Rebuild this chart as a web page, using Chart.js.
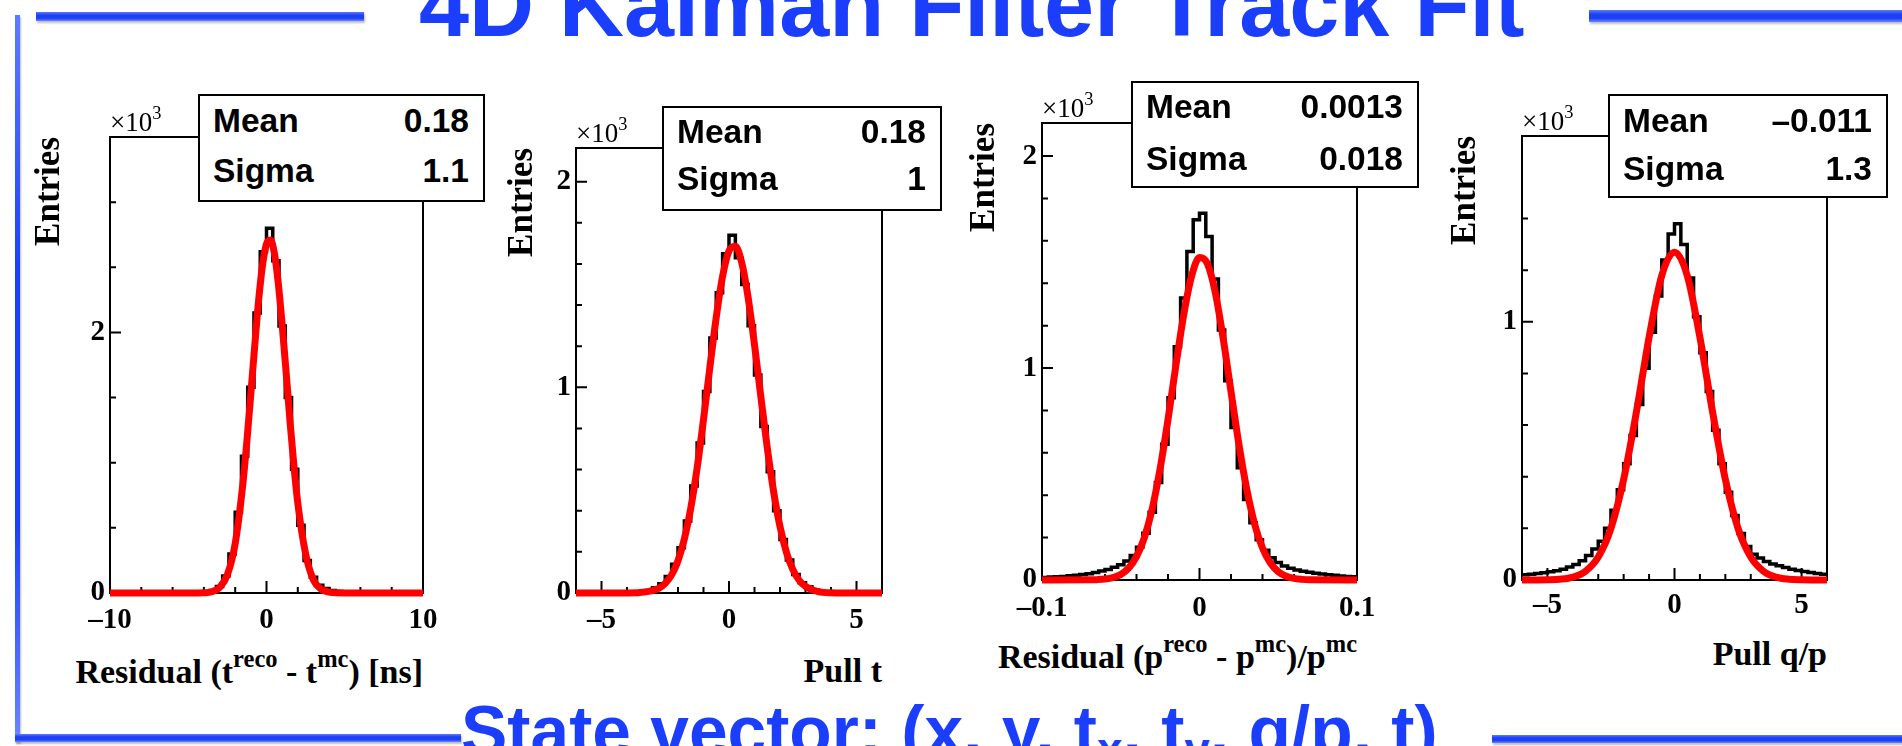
<!DOCTYPE html>
<html>
<head>
<meta charset="utf-8">
<script src="https://cdn.jsdelivr.net/npm/chart.js@4.4.0/dist/chart.umd.min.js"></script>
<style>
  html, body { margin: 0; padding: 0; background: #fff; }
  body { width: 1902px; height: 746px; position: relative; overflow: hidden; }
  canvas { position: absolute; }
  .txt { position: absolute; white-space: nowrap; line-height: 1; color: #000; }
  .serif { font-family: 'Liberation Serif', 'Times New Roman', serif; font-weight: bold; }
  .serifr { font-family: 'Liberation Serif', 'Times New Roman', serif; font-weight: normal; }
  .sans { font-family: 'Liberation Sans', Arial, sans-serif; font-weight: bold; }
  .blue { color: #1b3dfc; }
  .sup { font-size: 0.72em; position: relative; top: -0.62em; }
  .sup3 { font-size: 0.68em; position: relative; top: -0.7em; }
  .sub { font-size: 0.66em; position: relative; top: 0.22em; }
  .stat { position: absolute; border: 2px solid #000; background: #fff; box-sizing: border-box; z-index: 2; }
  .stat-txt { z-index: 3; }
  .brush { position: absolute; background: linear-gradient(#5d7cff, #1d40f5 35%, #1d40f5 70%, #6a86ff); box-shadow: 1px 2px 2px rgba(90,90,90,0.4); }
</style>
</head>
<body>
<div class="brush" style="left:36px;top:12px;width:328px;height:9px"></div>
<div class="brush" style="left:1589px;top:10px;width:313px;height:12px"></div>
<div class="brush" style="left:15px;top:15px;width:5px;height:727px"></div>
<div class="brush" style="left:15px;top:734px;width:446px;height:8px"></div>
<div class="brush" style="left:1492px;top:735px;width:410px;height:8px"></div>
<script>
'use strict'

// histogram binning: [low edge, bin width]
const p1Bins = [-10, 0.4];
const p2Bins = [-6, 0.25];
const p3Bins = [-0.1, 0.004];
const p4Bins = [-6, 0.25];

// bin contents (x10^3 entries)
const p1Counts = [0, 0, 0, 0, 0, 0, 0, 0, 0, 0,
  0, 0, 0, 0.002, 0.004, 0.01, 0.02, 0.05, 0.13, 0.30,
  0.62, 1.05, 1.58, 2.15, 2.62, 2.80, 2.55, 2.05, 1.50, 0.95,
  0.52, 0.25, 0.12, 0.06, 0.035, 0.02, 0.012, 0.007, 0.004, 0.002,
  0, 0, 0, 0, 0, 0, 0, 0, 0, 0];
const p2Counts = [0, 0, 0, 0, 0, 0, 0, 0, 0, 0.003,
  0.006, 0.012, 0.025, 0.045, 0.08, 0.14, 0.22, 0.35, 0.52, 0.73,
  0.98, 1.24, 1.46, 1.65, 1.74, 1.63, 1.50, 1.30, 1.06, 0.81,
  0.59, 0.40, 0.26, 0.16, 0.09, 0.05, 0.03, 0.015, 0.008, 0.004,
  0.002, 0, 0, 0, 0, 0, 0, 0];
const p3Counts = [0.012, 0.014, 0.015, 0.017, 0.020, 0.022, 0.026, 0.030, 0.035, 0.042,
  0.050, 0.060, 0.072, 0.090, 0.115, 0.155, 0.22, 0.32, 0.46, 0.64,
  0.86, 1.10, 1.33, 1.55, 1.70, 1.73, 1.62, 1.42, 1.18, 0.94,
  0.72, 0.53, 0.38, 0.27, 0.19, 0.14, 0.105, 0.082, 0.066, 0.055,
  0.047, 0.041, 0.036, 0.032, 0.028, 0.025, 0.022, 0.019, 0.017, 0.015];
const p4Counts = [0.02, 0.022, 0.025, 0.028, 0.032, 0.036, 0.042, 0.05, 0.06, 0.075,
  0.095, 0.12, 0.15, 0.20, 0.27, 0.35, 0.45, 0.56, 0.68, 0.82,
  0.96, 1.10, 1.24, 1.34, 1.38, 1.30, 1.17, 1.02, 0.88, 0.73,
  0.58, 0.45, 0.34, 0.25, 0.18, 0.13, 0.10, 0.085, 0.072, 0.062,
  0.055, 0.048, 0.042, 0.037, 0.033, 0.029, 0.025, 0.022];

// gaussian fit curves
const p1FitX = [-10, -5, -4.5, -4, -3.5, -3, -2.5, -2, -1.5, -1.25, -1, -0.75, -0.5, -0.25, 0, 0.25, 0.5, 0.75, 1, 1.25, 1.5, 1.75, 2, 2.5, 3, 3.5, 4, 4.5, 5, 10];
const p1FitY = [0, 0, 0.0005, 0.002, 0.010, 0.042, 0.14, 0.38, 0.85, 1.17, 1.53, 1.90, 2.25, 2.52, 2.68, 2.71, 2.61, 2.38, 2.06, 1.70, 1.32, 0.98, 0.69, 0.30, 0.10, 0.029, 0.007, 0.001, 0, 0];
const p2FitX = [-6, -4, -3.5, -3, -2.75, -2.5, -2.25, -2, -1.75, -1.5, -1.25, -1, -0.75, -0.5, -0.25, 0, 0.25, 0.5, 0.75, 1, 1.25, 1.5, 1.75, 2, 2.25, 2.5, 2.75, 3, 3.5, 4, 4.5, 6];
const p2FitY = [0, 0.0003, 0.002, 0.011, 0.023, 0.047, 0.088, 0.157, 0.263, 0.412, 0.608, 0.843, 1.097, 1.341, 1.541, 1.663, 1.686, 1.606, 1.437, 1.207, 0.954, 0.707, 0.493, 0.323, 0.198, 0.115, 0.062, 0.032, 0.007, 0.001, 0.0001, 0];
const p3FitX = [-0.1, -0.07, -0.065, -0.06, -0.055, -0.05, -0.045, -0.04, -0.035, -0.03, -0.025, -0.02, -0.015, -0.01, -0.005, 0, 0.005, 0.01, 0.015, 0.02, 0.025, 0.03, 0.035, 0.04, 0.045, 0.05, 0.055, 0.06, 0.065, 0.07, 0.1];
const p3FitY = [0, 0.0006, 0.0017, 0.0046, 0.0115, 0.026, 0.056, 0.110, 0.200, 0.336, 0.525, 0.757, 1.012, 1.252, 1.434, 1.521, 1.493, 1.357, 1.141, 0.889, 0.641, 0.428, 0.264, 0.151, 0.080, 0.039, 0.018, 0.0075, 0.003, 0.001, 0];
const p4FitX = [-6, -5.5, -5, -4.5, -4, -3.5, -3, -2.5, -2, -1.5, -1, -0.5, 0, 0.5, 1, 1.5, 2, 2.5, 3, 3.5, 4, 4.5, 5, 5.5, 6];
const p4FitY = [0, 0.0002, 0.0008, 0.003, 0.011, 0.034, 0.089, 0.20, 0.39, 0.65, 0.94, 1.18, 1.27, 1.18, 0.94, 0.65, 0.39, 0.20, 0.089, 0.034, 0.011, 0.003, 0.0008, 0.0002, 0];

// labelled tick values
const p1XTicks = [-10, 0, 10];
const p1YTicks = [0, 2];
const p2XTicks = [-5, 0, 5];
const p2YTicks = [0, 1, 2];
const p3XTicks = [-0.1, 0, 0.1];
const p3YTicks = [0, 1, 2];
const p4XTicks = [-5, 0, 5];
const p4YTicks = [0, 1];

// stat box
const statNames = ['Mean', 'Sigma'];
const p1Stats = ['0.18', '1.1'];
const p2Stats = ['0.18', '1'];
const p3Stats = ['0.0013', '0.018'];
const p4Stats = ['\u20130.011', '1.3'];

const xTitles = [
  'Residual (t<span class="sup">reco</span> - t<span class="sup">mc</span>) [ns]',
  'Pull t',
  'Residual (p<span class="sup">reco</span> - p<span class="sup">mc</span>)/p<span class="sup">mc</span>',
  'Pull q/p'
];

const PAD_L = 100, PAD_T = 14, PAD_R = 24, PAD_B = 50;
const serifFont = "'Liberation Serif', 'Times New Roman', serif";

const panels = [
  { frame: [110, 137, 423, 593], x: [-10, 10, 2], y: [3.5, 0.5], xTicks: p1XTicks, yTicks: p1YTicks,
    bins: p1Bins, counts: p1Counts, fitX: p1FitX, fitY: p1FitY, stats: p1Stats,
    box: [198, 94, 485, 202], rows: [132, 182], gap: 60, titleBase: 683, xLabelPad: 10 },
  { frame: [576, 148, 882, 593], x: [-6, 6, 1], y: [2.164, 0.2], xTicks: p2XTicks, yTicks: p2YTicks,
    bins: p2Bins, counts: p2Counts, fitX: p2FitX, fitY: p2FitY, stats: p2Stats,
    box: [662, 106, 942, 211], rows: [143, 190], gap: 53, titleBase: 682, xLabelPad: 10 },
  { frame: [1042, 123, 1357, 580], x: [-0.1, 0.1, 0.02], y: [2.156, 0.2], xTicks: p3XTicks, yTicks: p3YTicks,
    bins: p3Bins, counts: p3Counts, fitX: p3FitX, fitY: p3FitY, stats: p3Stats,
    box: [1131, 81, 1419, 188], rows: [118, 170], gap: 57, titleBase: 668, xLabelPad: 11 },
  { frame: [1522, 136, 1827, 580], x: [-6, 6, 1], y: [1.72, 0.2], xTicks: p4XTicks, yTicks: p4YTicks,
    bins: p4Bins, counts: p4Counts, fitX: p4FitX, fitY: p4FitY, stats: p4Stats,
    box: [1608, 94, 1888, 198], rows: [132, 180], gap: 56, titleBase: 665, xLabelPad: 8 }
];

function addText(html, x, base, size, cls, align) {
  const d = document.createElement('div');
  d.className = 'txt ' + cls;
  d.style.fontSize = size + 'px';
  d.innerHTML = html;
  const asc = cls.includes('serif') ? 0.8375 : 0.8465;
  d.style.top = (base - asc * size) + 'px';
  d.style.left = x + 'px';
  if (align === 'right') d.style.transform = 'translateX(-100%)';
  document.body.appendChild(d);
  return d;
}

function near(a, b) {
  return Math.abs(a - b) < 1e-9;
}

function onStep(v, step) {
  const k = v / step;
  return Math.abs(k - Math.round(k)) < 1e-6;
}

function fmt(v) {
  const r = Math.round(v * 1e6) / 1e6;
  return r < 0 ? '\u2013' + String(-r) : String(r);
}

function histPoints(bins, counts) {
  const pts = counts.map((c, i) => ({ x: bins[0] + i * bins[1], y: c }));
  pts.push({ x: bins[0] + counts.length * bins[1], y: counts[counts.length - 1] });
  return pts;
}

function axesPlugin(p) {
  return {
    id: 'rootAxes',
    beforeDatasetsDraw(chart) {
      const { ctx, chartArea: a, scales } = chart;
      ctx.save();
      ctx.strokeStyle = '#000';
      ctx.lineWidth = 2;
      ctx.strokeRect(a.left, a.top, a.right - a.left, a.bottom - a.top);
      ctx.beginPath();
      for (const t of scales.x.ticks) {
        if (!onStep(t.value, p.x[2])) continue;
        const px = scales.x.getPixelForValue(t.value);
        const len = p.xTicks.some(v => near(v, t.value)) ? 12 : 6;
        ctx.moveTo(px, a.bottom);
        ctx.lineTo(px, a.bottom - len);
      }
      for (const t of scales.y.ticks) {
        if (!onStep(t.value, p.y[1])) continue;
        const py = scales.y.getPixelForValue(t.value);
        const len = p.yTicks.some(v => near(v, t.value)) ? 11 : 6;
        ctx.moveTo(a.left, py);
        ctx.lineTo(a.left + len, py);
      }
      ctx.stroke();
      ctx.restore();
    }
  };
}

panels.forEach((p, idx) => {
  const [fl, ft, fr, fb] = p.frame;
  const canvas = document.createElement('canvas');
  const w = (fr - fl) + PAD_L + PAD_R;
  const h = (fb - ft) + PAD_T + PAD_B;
  canvas.width = w;
  canvas.height = h;
  canvas.style.left = (fl - PAD_L) + 'px';
  canvas.style.top = (ft - PAD_T) + 'px';
  canvas.style.width = w + 'px';
  canvas.style.height = h + 'px';
  document.body.appendChild(canvas);

  const tickFont = { family: serifFont, size: 29, weight: 'bold', lineHeight: 1.2 };

  new Chart(canvas, {
    type: 'line',
    data: {
      datasets: [
        {
          label: 'fit',
          data: p.fitX.map((x, i) => ({ x: x, y: p.fitY[i] })),
          borderColor: '#ff0000',
          borderWidth: 7,
          pointRadius: 0,
          cubicInterpolationMode: 'monotone',
          fill: false,
          clip: 10,
          order: 0
        },
        {
          label: 'hist',
          data: histPoints(p.bins, p.counts),
          borderColor: '#000',
          borderWidth: 3.5,
          pointRadius: 0,
          stepped: 'before',
          fill: false,
          clip: 10,
          order: 1
        }
      ]
    },
    options: {
      responsive: false,
      animation: false,
      devicePixelRatio: 1,
      events: [],
      layout: { padding: { left: 0, top: PAD_T, right: PAD_R, bottom: 0 } },
      plugins: { legend: { display: false }, tooltip: { enabled: false } },
      scales: {
        x: {
          type: 'linear',
          min: p.x[0],
          max: p.x[1],
          grid: { display: false, drawTicks: false },
          border: { display: false },
          ticks: {
            stepSize: p.x[2],
            autoSkip: false,
            maxRotation: 0,
            padding: p.xLabelPad,
            color: '#000',
            font: tickFont,
            callback: v => p.xTicks.some(t => near(t, v)) ? fmt(v) : ''
          },
          afterFit(s) { s.height = PAD_B; s.paddingLeft = 0; s.paddingRight = 0; }
        },
        y: {
          type: 'linear',
          min: 0,
          max: p.y[0],
          grid: { display: false, drawTicks: false },
          border: { display: false },
          ticks: {
            stepSize: p.y[1],
            autoSkip: false,
            padding: 5,
            color: '#000',
            font: tickFont,
            callback: v => p.yTicks.some(t => near(t, v)) ? fmt(v) : ''
          },
          title: {
            display: true,
            text: 'Entries',
            align: 'end',
            color: '#000',
            font: { family: serifFont, size: 35, weight: 'bold', lineHeight: 1.2 },
            padding: { top: PAD_L - p.gap - 21, bottom: 0 }
          },
          afterFit(s) { s.width = PAD_L; s.paddingTop = 0; s.paddingBottom = 0; }
        }
      }
    },
    plugins: [axesPlugin(p)]
  });

  // x10^3 multiplier above the frame
  addText('\u00d710<span class="sup3">3</span>', fl, ft - 5, 27, 'serifr', 'left');

  // axis title, right aligned at the frame edge
  addText(xTitles[idx], fr, p.titleBase, 34, 'serif', 'right');

  // stat box
  const [bl, bt, br, bb] = p.box;
  const box = document.createElement('div');
  box.className = 'stat';
  box.style.left = bl + 'px';
  box.style.top = bt + 'px';
  box.style.width = (br - bl) + 'px';
  box.style.height = (bb - bt) + 'px';
  document.body.appendChild(box);
  statNames.forEach((name, r) => {
    addText(name, bl + 15, p.rows[r], 33.5, 'sans stat-txt', 'left');
    addText(p.stats[r], br - 16, p.rows[r], 33.5, 'sans stat-txt', 'right');
  });
});

addText('4D Kalman Filter Track Fit', 419, 36, 90, 'sans blue', 'left');
addText('State vector: (x, y, t<span class="sub">x</span>, t<span class="sub">y</span>, q/p, t)', 461, 756, 69.5, 'sans blue', 'left');
</script>
</body>
</html>
